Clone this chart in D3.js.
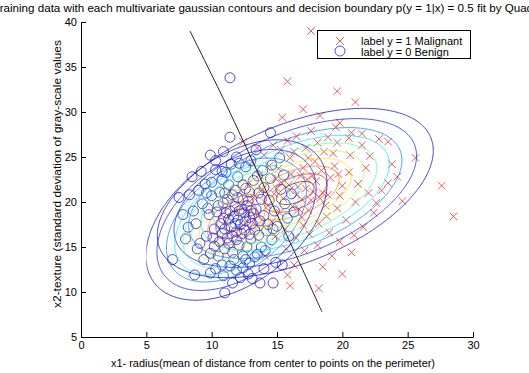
<!DOCTYPE html>
<html>
<head>
<meta charset="utf-8">
<script src="https://cdn.jsdelivr.net/npm/d3@7"></script>
<style>
  body { margin: 0; background: #fff; }
  text { font-family: "Liberation Sans", Arial, sans-serif; fill: #000; }
</style>
</head>
<body>
<div id="chart"></div>
<script>
// tick values
var xTicks = [0, 5, 10, 15, 20, 25, 30];
var yTicks = [5, 10, 15, 20, 25, 30, 35, 40];

// label y = 1 Malignant  (radius, texture)
var malignant = [
  [17.6,39.0],[15.8,33.4],[19.6,32.3],[21.0,31.1],[19.8,28.8],[20.7,27.7],[20.5,27.1],[23.5,26.7],
  [21.5,26.3],[25.6,24.9],[27.6,21.8],[24.6,20.1],[28.5,18.4],[23.5,22.1],[22.6,19.9],[22.0,21.0],
  [20.7,14.4],[18.2,10.4],[15.8,11.9],[12.4,26.7],[19.6,26.6],
  [17.2,21.5],[16.5,20.8],[18.0,22.3],[17.6,20.2],[16.8,22.9],[18.5,21.0],[15.9,21.9],[17.0,23.8],
  [19.1,22.7],[16.2,19.5],[18.7,19.6],[15.5,20.4],[17.9,24.5],[19.4,24.0],[20.0,21.8],[14.9,22.6],
  [15.2,18.8],[16.9,18.3],[18.2,17.6],[19.6,19.3],[20.5,23.3],[21.2,22.0],[16.0,24.9],[14.4,24.0],
  [13.9,21.4],[14.3,19.6],[15.6,17.0],[17.5,16.4],[19.0,16.6],[20.3,18.0],[21.0,20.0],[21.8,23.8],
  [20.6,25.2],[18.6,25.6],[17.2,26.0],[15.3,25.8],[14.0,25.2],[13.6,23.0],[13.2,20.5],[14.6,17.8],
  [16.4,16.1],[18.1,15.2],[19.8,15.6],[21.6,17.2],[22.4,18.8],[16.6,21.7],[17.8,21.1],[18.9,20.8],
  [16.1,23.1],[18.4,23.5],[17.4,19.1],[15.1,23.7],[19.8,20.7],[17.0,17.4],[15.8,26.8],[14.7,26.3],
  [13.5,26.0],[18.9,27.2],[17.6,27.9],[16.5,27.3],[22.1,25.1],[20.9,16.3],[19.2,14.0],[17.1,14.6],
  [15.7,14.8],[14.9,16.2],[16.3,13.0],[18.5,12.8],[23.0,21.3],[23.8,24.2],[13.4,17.4],[12.8,22.0],
  [19.5,28.3],[21.5,27.6],[15.4,29.4],[17.0,30.3],[18.3,29.6],[22.8,27.0],[24.2,22.8],[20.0,12.0],
  [13.1,24.4],[16.0,10.7],[14.1,14.0],[16.9,20.3],[17.7,22.9],[15.4,22.1],[16.3,25.6],[18.8,18.4],
  [14.8,20.9],[19.3,25.4],[17.4,24.9],[16.0,21.3],[17.3,22.5],[18.3,20.4],[16.7,19.2],[15.0,21.5],
  [19.7,23.1],[18.1,26.6]
];

// label y = 0 Benign
var benign = [
  [11.4,33.8],[11.4,27.2],[14.5,27.7],[10.9,25.6],[10.8,23.4],[8.3,20.8],[9.6,21.0],[7.0,13.6],
  [8.7,11.9],[9.9,12.1],[11.6,11.0],[11.0,9.9],[13.7,11.0],[14.7,11.0],[15.4,13.0],[12.4,12.7],
  [7.5,20.5],[8.5,22.8],[7.8,18.6],
  [12.0,18.0],[11.5,17.2],[12.5,18.8],[11.8,19.5],[12.3,16.5],[10.9,18.2],[13.1,17.6],[11.2,16.0],
  [12.8,20.1],[11.6,20.8],[10.5,19.6],[13.4,19.2],[12.1,15.2],[11.0,14.8],[13.0,15.9],[10.2,17.0],
  [9.8,18.6],[12.6,21.5],[11.3,21.9],[13.6,21.0],[14.0,18.5],[14.2,16.8],[13.8,15.0],[12.4,14.0],
  [11.7,13.6],[10.6,15.6],[9.6,16.2],[9.3,19.8],[10.0,20.7],[10.8,22.5],[12.0,22.8],[13.2,22.4],
  [14.4,20.2],[14.8,19.0],[15.0,17.3],[14.6,15.8],[13.5,14.2],[12.9,13.2],[11.9,12.4],[10.8,13.0],
  [9.9,14.3],[9.1,15.4],[8.8,17.6],[8.6,19.0],[9.5,22.0],[10.3,23.6],[11.5,24.2],[12.6,23.9],
  [13.9,23.5],[14.5,22.6],[15.3,21.4],[15.6,19.8],[15.8,18.2],[11.1,18.8],[12.2,17.5],[11.7,18.4],
  [12.9,18.3],[11.4,19.0],[10.7,17.6],[12.5,16.9],[13.3,16.9],[11.9,16.7],[10.4,18.9],[11.2,20.3],
  [12.0,20.5],[12.7,19.6],[13.7,17.9],[14.3,17.5],[10.1,16.0],[11.3,15.4],[12.7,15.0],[13.3,13.9],
  [14.1,14.6],[10.9,11.8],[12.8,12.0],[13.1,11.5],[14.0,12.6],[9.4,13.6],[8.9,14.8],[10.3,12.6],
  [11.8,21.3],[10.6,21.1],[12.9,21.1],[14.0,21.6],[13.0,24.6],[11.9,25.0],[10.3,24.6],[14.6,24.1],
  [15.5,23.0],[15.2,24.9],[9.2,23.4],[9.9,25.2],[13.4,25.8],[11.1,23.3],[12.3,19.2],[10.9,19.9],
  [13.8,20.3],[14.7,17.0],[11.6,16.2],[12.6,13.6],[10.0,22.2],[15.9,16.2],[16.3,18.9],[16.1,20.9],
  [8.2,17.2],[8.0,15.9],[11.4,12.9],[12.2,11.6],[13.6,16.3],[9.7,19.3],[12.1,24.3],[14.9,13.3],
  [10.5,14.0],[9.0,21.3],[13.2,18.7],[11.0,17.0],[12.4,21.9],[13.5,22.9],[11.8,17.6],[12.6,17.9],
  [11.3,18.1],[12.1,19.0],[11.9,15.8],[10.8,16.5],[12.9,16.4],[11.6,14.4],[10.2,15.1],[12.4,20.2],
  [11.0,21.0],[13.0,19.0]
];

// fitted gaussians: mean, standard deviations, correlation
var malignantMean = [16.4, 21.0];
var malignantSd = [3.2, 2.85];
var malignantRho = 0.5;
var benignMean = [11.9, 18.0];
var benignSd = [2.1, 2.7];
var benignRho = 0.45;

// contour radii (Mahalanobis distance), outer to inner
var contourRadii = [3.3, 2.9, 2.55, 2.25, 1.95, 1.65, 1.35, 1.05, 0.75, 0.45];

// decision boundary p(y = 1|x) = 0.5
var boundary = [[8.34,39.0],[11.32,30.2],[14.15,21.3],[16.99,12.4],[18.44,7.8]];

var W = 529, H = 373;
var margin = { left: 81, right: 56, top: 22, bottom: 36 };

var xScale = d3.scaleLinear().domain([0, 30]).range([margin.left, W - margin.right]);
var yScale = d3.scaleLinear().domain([5, 40]).range([H - margin.bottom, margin.top]);

var svg = d3.select("#chart").append("svg")
  .attr("width", W)
  .attr("height", H);

svg.append("defs").append("clipPath")
  .attr("id", "grid-clip")
  .append("rect")
  .attr("x", xScale(5))
  .attr("y", yScale(40))
  .attr("width", xScale(30) - xScale(5))
  .attr("height", yScale(5) - yScale(40));

function jet(t) {
  var c = function(v) { return Math.max(0, Math.min(1, v)); };
  return d3.rgb(255 * c(1.5 - Math.abs(4 * t - 3)),
                255 * c(1.5 - Math.abs(4 * t - 2)),
                255 * c(1.5 - Math.abs(4 * t - 1))).toString();
}

// scatter: malignant crosses
var xs = 3.8;
svg.append("g")
  .attr("stroke", "#e5403c")
  .attr("stroke-width", 1)
  .attr("stroke-opacity", 0.85)
  .selectAll("path")
  .data(malignant)
  .enter().append("path")
  .attr("d", function(d) {
    var px = xScale(d[0]), py = yScale(d[1]);
    return "M" + (px - xs) + "," + (py - xs) + "L" + (px + xs) + "," + (py + xs) +
           "M" + (px - xs) + "," + (py + xs) + "L" + (px + xs) + "," + (py - xs);
  });

// scatter: benign circles
svg.append("g")
  .attr("fill", "none")
  .attr("stroke", "#2e2ed6")
  .attr("stroke-width", 1)
  .attr("stroke-opacity", 0.85)
  .selectAll("circle")
  .data(benign)
  .enter().append("circle")
  .attr("cx", function(d) { return xScale(d[0]); })
  .attr("cy", function(d) { return yScale(d[1]); })
  .attr("r", 5);

// gaussian contours on a grid
var gx0 = -5, gy0 = -5, step = 0.1, nx = 401, ny = 551;

function gaussGrid(mean, sd, rho) {
  var vals = new Array(nx * ny);
  for (var j = 0; j < ny; j++) {
    for (var i = 0; i < nx; i++) {
      var dx = (gx0 + i * step - mean[0]) / sd[0];
      var dy = (gy0 + j * step - mean[1]) / sd[1];
      var q = (dx * dx - 2 * rho * dx * dy + dy * dy) / (1 - rho * rho);
      vals[j * nx + i] = Math.exp(-q / 2);
    }
  }
  return vals;
}

var gridPath = d3.geoPath(d3.geoTransform({
  point: function(x, y) {
    this.stream.point(xScale(gx0 + (x - 0.5) * step), yScale(gy0 + (y - 0.5) * step));
  }
}));

var levels = contourRadii.map(function(r) { return Math.exp(-r * r / 2); });

var contourG = svg.append("g").attr("clip-path", "url(#grid-clip)");

[[malignantMean, malignantSd, malignantRho], [benignMean, benignSd, benignRho]].forEach(function(g) {
  var vals = gaussGrid(g[0], g[1], g[2]);
  var cs = d3.contours().size([nx, ny]).thresholds(levels)(vals);
  contourG.append("g")
    .selectAll("path")
    .data(cs)
    .enter().append("path")
    .attr("d", gridPath)
    .attr("fill", "none")
    .attr("stroke", function(d, i) { return jet(0.05 + 0.9 * i / (levels.length - 1)); })
    .attr("stroke-width", 1)
    .attr("stroke-opacity", 0.75);
});

// decision boundary
svg.append("path")
  .datum(boundary)
  .attr("d", d3.line()
    .x(function(d) { return xScale(d[0]); })
    .y(function(d) { return yScale(d[1]); })
    .curve(d3.curveCatmullRom))
  .attr("fill", "none")
  .attr("stroke", "#222")
  .attr("stroke-width", 1);

// axes, MATLAB style: ticks inside, no box
var xAxis = svg.append("g")
  .attr("transform", "translate(0," + yScale(5) + ")")
  .call(d3.axisBottom(xScale).tickValues(xTicks).tickSizeInner(-5).tickSizeOuter(0).tickPadding(4));
var yAxis = svg.append("g")
  .attr("transform", "translate(" + xScale(0) + ",0)")
  .call(d3.axisLeft(yScale).tickValues(yTicks).tickSizeInner(-5).tickSizeOuter(0).tickPadding(4));

[xAxis, yAxis].forEach(function(a) {
  a.select(".domain").attr("stroke", "#000");
  a.selectAll(".tick line").attr("stroke", "#000");
  a.selectAll("text")
    .style("font-family", "Liberation Sans, Arial, sans-serif")
    .style("font-size", "11px")
    .attr("fill", "#000");
});

// titles
svg.append("text")
  .attr("x", 274)
  .attr("y", 12)
  .attr("text-anchor", "middle")
  .attr("textLength", 562)
  .attr("lengthAdjust", "spacingAndGlyphs")
  .style("font-size", "11px")
  .text("Training data with each multivariate gaussian contours and decision boundary p(y = 1|x) = 0.5 fit by Quadratic");

svg.append("text")
  .attr("x", 273)
  .attr("y", 367)
  .attr("text-anchor", "middle")
  .attr("textLength", 324)
  .attr("lengthAdjust", "spacingAndGlyphs")
  .style("font-size", "11px")
  .text("x1- radius(mean of distance from center to points on the perimeter)");

svg.append("text")
  .attr("transform", "translate(61,174) rotate(-90)")
  .attr("text-anchor", "middle")
  .attr("textLength", 268)
  .attr("lengthAdjust", "spacingAndGlyphs")
  .style("font-size", "11px")
  .text("x2-texture (standard deviation of gray-scale values");

// legend
var legend = svg.append("g");
legend.append("rect")
  .attr("x", 317.5)
  .attr("y", 30.5)
  .attr("width", 153)
  .attr("height", 28)
  .attr("fill", "#fff")
  .attr("stroke", "#000");
legend.append("path")
  .attr("d", "M336,37L344,45M336,45L344,37")
  .attr("stroke", "#e5403c")
  .attr("stroke-opacity", 0.85);
legend.append("circle")
  .attr("cx", 340)
  .attr("cy", 51)
  .attr("r", 5)
  .attr("fill", "none")
  .attr("stroke", "#2e2ed6")
  .attr("stroke-opacity", 0.85);
legend.append("text")
  .attr("x", 361)
  .attr("y", 45)
  .style("font-size", "11px")
  .text("label y = 1 Malignant");
legend.append("text")
  .attr("x", 361)
  .attr("y", 56)
  .style("font-size", "11px")
  .text("label y = 0 Benign");
</script>
</body>
</html>
